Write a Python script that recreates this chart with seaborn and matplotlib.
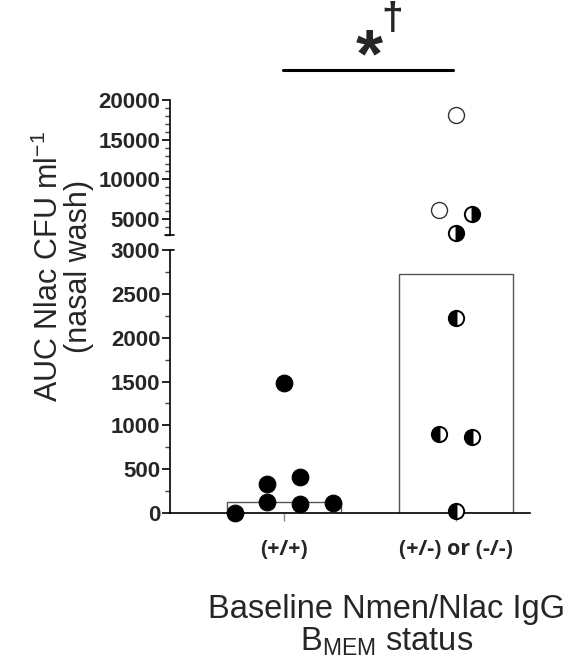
import numpy as np
import pandas as pd
import matplotlib
matplotlib.use("Agg")
import matplotlib.pyplot as plt
from matplotlib.ticker import MultipleLocator, FixedLocator
import seaborn as sns

# ---- data ----
groups = ["(+/+)", "(+/-) or (-/-)"]
bar_heights = [125, 2730]

# group 1: filled circles
g1_values = [0, 330, 125, 1480, 410, 100, 115]
g1_offsets = [-0.285, -0.099, -0.099, 0.0, 0.093, 0.093, 0.285]

# group 2: open circles and half-filled circles
g2_open_values = [18100, 6100]
g2_open_offsets = [0.0, -0.099]
g2_rhalf_values = [5600, 3250]
g2_rhalf_offsets = [0.093, 0.0]
g2_lhalf_values = [2220, 900, 870, 25]
g2_lhalf_offsets = [0.0, -0.099, 0.093, 0.0]

low_ticks = [0, 500, 1000, 1500, 2000, 2500, 3000]
up_ticks = [5000, 10000, 15000, 20000]

# ---- style ----
sns.set_theme(style="ticks")
plt.rcParams["font.family"] = ["Liberation Sans", "DejaVu Sans"]
plt.rcParams["mathtext.fontset"] = "custom"
plt.rcParams["mathtext.rm"] = "Liberation Sans"
plt.rcParams["mathtext.default"] = "regular"

fig = plt.figure(figsize=(5.73, 6.6), dpi=100)
W, H = 573, 660
x_left, x_right = 170, 530
ax_low = fig.add_axes([x_left / W, 1 - 513 / H, (x_right - x_left) / W, (513 - 250) / H])
ax_up = fig.add_axes([x_left / W, 1 - 235 / H, (x_right - x_left) / W, (235 - 100) / H])

df = pd.DataFrame({"group": groups, "value": bar_heights})
sns.barplot(data=df, x="group", y="value", ax=ax_low, color="white",
            edgecolor="#555555", linewidth=1.0, width=0.663, errorbar=None)

xlim = (-0.663, 1.43)
for ax in (ax_low, ax_up):
    ax.set_xlim(*xlim)

ax_low.set_ylim(0, 3000)
ax_up.set_ylim(3000, 20000)


def draw(values, offsets, center, **kw):
    for v, o in zip(values, offsets):
        ax = ax_low if v <= 3000 else ax_up
        ax.plot([center + o], [v], linestyle="none", marker="o", clip_on=False,
                zorder=5, **kw)


draw(g1_values, g1_offsets, 0, markersize=12, markerfacecolor="black",
     markeredgecolor="black", markeredgewidth=0.8)
draw(g2_open_values, g2_open_offsets, 1, markersize=11.5, markerfacecolor="white",
     markeredgecolor="#333333", markeredgewidth=1.0)
draw(g2_rhalf_values, g2_rhalf_offsets, 1, markersize=11, fillstyle="right",
     markerfacecolor="black", markerfacecoloralt="white",
     markeredgecolor="black", markeredgewidth=1.4)
draw(g2_lhalf_values, g2_lhalf_offsets, 1, markersize=11, fillstyle="left",
     markerfacecolor="black", markerfacecoloralt="white",
     markeredgecolor="black", markeredgewidth=1.4)

# axes styling
ax_low.yaxis.set_major_locator(FixedLocator(low_ticks))
ax_low.yaxis.set_minor_locator(MultipleLocator(250))
ax_up.yaxis.set_major_locator(FixedLocator(up_ticks))
ax_up.yaxis.set_minor_locator(MultipleLocator(1000))
for ax in (ax_low, ax_up):
    ax.spines["right"].set_visible(False)
    ax.spines["top"].set_visible(False)
    ax.spines["left"].set_linewidth(1.2)
    ax.spines["left"].set_color("black")
    ax.tick_params(axis="y", which="major", length=6, width=1.2, color="black",
                   labelsize=16, pad=1)
    ax.tick_params(axis="y", which="minor", length=3.5, width=1.0, color="#444444")
    ax.set_ylabel("")
    ax.set_xlabel("")
    ax.patch.set_alpha(0)
    for lab in ax.get_yticklabels():
        lab.set_fontweight("bold")
        lab.set_fontsize(16)

ax_up.spines["bottom"].set_visible(False)
ax_up.set_xticks([])
ax_low.spines["bottom"].set_linewidth(1.2)
ax_low.spines["bottom"].set_color("black")
ax_low.set_xticks([0, 1])
ax_low.set_xticklabels(groups)
ax_low.tick_params(axis="x", length=6, width=1.0, color="#888888", pad=13)
for lab in ax_low.get_xticklabels():
    lab.set_fontweight("bold")
    lab.set_fontsize(15.5)
    lab.set_family(["Open Sans", "DejaVu Sans"])

# break caps
ax_up.plot([-0.014, 0.012], [0, 0], transform=ax_up.transAxes, color="black",
           lw=1.2, clip_on=False)
ax_low.plot([0, 0.012], [1, 1], transform=ax_low.transAxes, color="black",
            lw=1.2, clip_on=False)

# significance line and symbols
fig.add_artist(plt.Line2D([283 / W, 453 / W], [1 - 70 / H, 1 - 70 / H],
                          color="black", lw=2.2))
fig.text(369 / W, 1 - 58 / H, "*", fontsize=50, fontweight="bold",
         ha="center", va="center")
fig.text(392 / W, 1 - 19 / H, "\u2020", fontsize=28, fontweight="bold",
         ha="center", va="center")

# labels
fig.text(64 / W, 1 - 266 / H, "AUC Nlac CFU ml$^{-1}$\n(nasal wash)",
         rotation=90, ha="center", va="center", fontsize=22, linespacing=0.95)
fig.text(387 / W, 1 - 626 / H, "Baseline Nmen/Nlac IgG\nB$_{MEM}$ status",
         ha="center", va="center", fontsize=23.5, linespacing=1.02)

fig.savefig("out.png", dpi=100)
